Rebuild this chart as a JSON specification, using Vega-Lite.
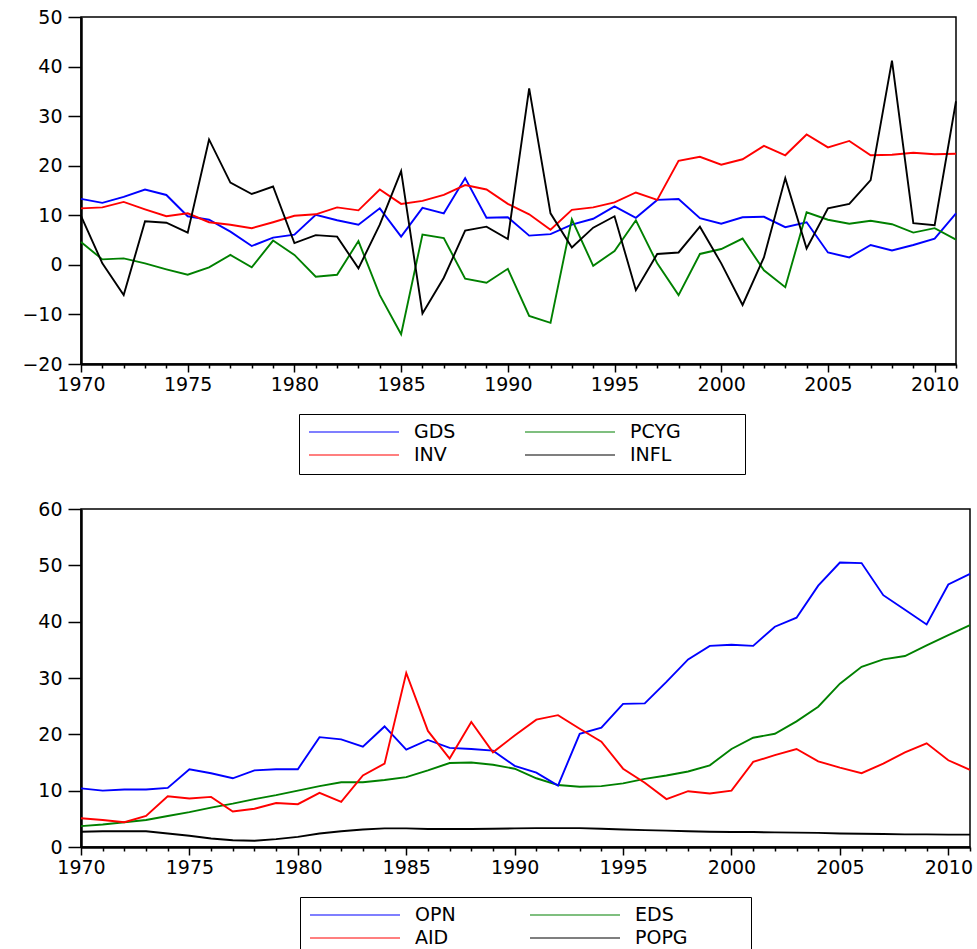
{
  "$schema": "https://vega.github.io/schema/vega-lite/v6.json",
  "background": "white",
  "padding": {"left": 21, "top": 7, "right": 0, "bottom": 0},
  "config": {
    "font": "DejaVu Sans",
    "view": {"stroke": "black", "strokeWidth": 1.5},
    "axis": {"grid": false, "domainColor": "black", "domainWidth": 2.5, "tickColor": "black", "tickWidth": 1.5, "labelFont": "DejaVu Sans", "labelFontSize": 19, "labelColor": "black", "title": null},
    "legend": {"orient": "none", "columns": 2, "symbolType": "stroke", "symbolSize": 8100, "symbolStrokeWidth": 1.2, "clipHeight": 18, "rowPadding": 4, "padding": 9, "strokeColor": "black", "fillColor": "white", "labelFont": "DejaVu Sans", "labelFontSize": 19, "labelColor": "black", "labelOffset": 14, "labelLimit": 400, "title": null}
  },
  "datasets": {
    "top": [
      {"year":1970,"series":"GDS","value":13.3},{"year":1971,"series":"GDS","value":12.5},{"year":1972,"series":"GDS","value":13.7},{"year":1973,"series":"GDS","value":15.2},{"year":1974,"series":"GDS","value":14.1},{"year":1975,"series":"GDS","value":9.8},{"year":1976,"series":"GDS","value":9.1},{"year":1977,"series":"GDS","value":6.7},{"year":1978,"series":"GDS","value":3.8},{"year":1979,"series":"GDS","value":5.5},{"year":1980,"series":"GDS","value":6.1},{"year":1981,"series":"GDS","value":10.1},{"year":1982,"series":"GDS","value":9.0},{"year":1983,"series":"GDS","value":8.1},{"year":1984,"series":"GDS","value":11.4},{"year":1985,"series":"GDS","value":5.7},{"year":1986,"series":"GDS","value":11.5},{"year":1987,"series":"GDS","value":10.4},{"year":1988,"series":"GDS","value":17.5},{"year":1989,"series":"GDS","value":9.5},{"year":1990,"series":"GDS","value":9.6},{"year":1991,"series":"GDS","value":5.9},{"year":1992,"series":"GDS","value":6.2},{"year":1993,"series":"GDS","value":8.1},{"year":1994,"series":"GDS","value":9.3},{"year":1995,"series":"GDS","value":11.8},{"year":1996,"series":"GDS","value":9.5},{"year":1997,"series":"GDS","value":13.1},{"year":1998,"series":"GDS","value":13.3},{"year":1999,"series":"GDS","value":9.4},{"year":2000,"series":"GDS","value":8.3},{"year":2001,"series":"GDS","value":9.6},{"year":2002,"series":"GDS","value":9.7},{"year":2003,"series":"GDS","value":7.6},{"year":2004,"series":"GDS","value":8.6},{"year":2005,"series":"GDS","value":2.5},{"year":2006,"series":"GDS","value":1.5},{"year":2007,"series":"GDS","value":4.0},{"year":2008,"series":"GDS","value":2.9},{"year":2009,"series":"GDS","value":4.0},{"year":2010,"series":"GDS","value":5.3},{"year":2011,"series":"GDS","value":10.4},
      {"year":1970,"series":"INV","value":11.4},{"year":1971,"series":"INV","value":11.6},{"year":1972,"series":"INV","value":12.7},{"year":1973,"series":"INV","value":11.2},{"year":1974,"series":"INV","value":9.8},{"year":1975,"series":"INV","value":10.4},{"year":1976,"series":"INV","value":8.6},{"year":1977,"series":"INV","value":8.1},{"year":1978,"series":"INV","value":7.4},{"year":1979,"series":"INV","value":8.6},{"year":1980,"series":"INV","value":9.9},{"year":1981,"series":"INV","value":10.2},{"year":1982,"series":"INV","value":11.6},{"year":1983,"series":"INV","value":11.0},{"year":1984,"series":"INV","value":15.2},{"year":1985,"series":"INV","value":12.3},{"year":1986,"series":"INV","value":12.9},{"year":1987,"series":"INV","value":14.1},{"year":1988,"series":"INV","value":16.1},{"year":1989,"series":"INV","value":15.2},{"year":1990,"series":"INV","value":12.3},{"year":1991,"series":"INV","value":10.2},{"year":1992,"series":"INV","value":7.1},{"year":1993,"series":"INV","value":11.1},{"year":1994,"series":"INV","value":11.6},{"year":1995,"series":"INV","value":12.6},{"year":1996,"series":"INV","value":14.6},{"year":1997,"series":"INV","value":13.1},{"year":1998,"series":"INV","value":21.0},{"year":1999,"series":"INV","value":21.8},{"year":2000,"series":"INV","value":20.2},{"year":2001,"series":"INV","value":21.3},{"year":2002,"series":"INV","value":24.0},{"year":2003,"series":"INV","value":22.1},{"year":2004,"series":"INV","value":26.3},{"year":2005,"series":"INV","value":23.7},{"year":2006,"series":"INV","value":25.0},{"year":2007,"series":"INV","value":22.1},{"year":2008,"series":"INV","value":22.2},{"year":2009,"series":"INV","value":22.6},{"year":2010,"series":"INV","value":22.3},{"year":2011,"series":"INV","value":22.4},
      {"year":1970,"series":"PCYG","value":4.6},{"year":1971,"series":"PCYG","value":1.1},{"year":1972,"series":"PCYG","value":1.3},{"year":1973,"series":"PCYG","value":0.3},{"year":1974,"series":"PCYG","value":-0.9},{"year":1975,"series":"PCYG","value":-2.0},{"year":1976,"series":"PCYG","value":-0.5},{"year":1977,"series":"PCYG","value":2.0},{"year":1978,"series":"PCYG","value":-0.5},{"year":1979,"series":"PCYG","value":4.9},{"year":1980,"series":"PCYG","value":2.0},{"year":1981,"series":"PCYG","value":-2.4},{"year":1982,"series":"PCYG","value":-2.0},{"year":1983,"series":"PCYG","value":4.8},{"year":1984,"series":"PCYG","value":-6.1},{"year":1985,"series":"PCYG","value":-14.0},{"year":1986,"series":"PCYG","value":6.1},{"year":1987,"series":"PCYG","value":5.4},{"year":1988,"series":"PCYG","value":-2.8},{"year":1989,"series":"PCYG","value":-3.6},{"year":1990,"series":"PCYG","value":-0.8},{"year":1991,"series":"PCYG","value":-10.3},{"year":1992,"series":"PCYG","value":-11.7},{"year":1993,"series":"PCYG","value":9.2},{"year":1994,"series":"PCYG","value":-0.2},{"year":1995,"series":"PCYG","value":2.8},{"year":1996,"series":"PCYG","value":9.0},{"year":1997,"series":"PCYG","value":0.3},{"year":1998,"series":"PCYG","value":-6.1},{"year":1999,"series":"PCYG","value":2.2},{"year":2000,"series":"PCYG","value":3.2},{"year":2001,"series":"PCYG","value":5.3},{"year":2002,"series":"PCYG","value":-1.1},{"year":2003,"series":"PCYG","value":-4.5},{"year":2004,"series":"PCYG","value":10.6},{"year":2005,"series":"PCYG","value":9.1},{"year":2006,"series":"PCYG","value":8.3},{"year":2007,"series":"PCYG","value":8.9},{"year":2008,"series":"PCYG","value":8.2},{"year":2009,"series":"PCYG","value":6.5},{"year":2010,"series":"PCYG","value":7.4},{"year":2011,"series":"PCYG","value":5.1},
      {"year":1970,"series":"INFL","value":9.9},{"year":1971,"series":"INFL","value":0.3},{"year":1972,"series":"INFL","value":-6.1},{"year":1973,"series":"INFL","value":8.8},{"year":1974,"series":"INFL","value":8.5},{"year":1975,"series":"INFL","value":6.5},{"year":1976,"series":"INFL","value":25.3},{"year":1977,"series":"INFL","value":16.6},{"year":1978,"series":"INFL","value":14.3},{"year":1979,"series":"INFL","value":15.8},{"year":1980,"series":"INFL","value":4.4},{"year":1981,"series":"INFL","value":6.0},{"year":1982,"series":"INFL","value":5.7},{"year":1983,"series":"INFL","value":-0.7},{"year":1984,"series":"INFL","value":8.1},{"year":1985,"series":"INFL","value":18.9},{"year":1986,"series":"INFL","value":-9.8},{"year":1987,"series":"INFL","value":-2.6},{"year":1988,"series":"INFL","value":6.9},{"year":1989,"series":"INFL","value":7.7},{"year":1990,"series":"INFL","value":5.2},{"year":1991,"series":"INFL","value":35.6},{"year":1992,"series":"INFL","value":10.4},{"year":1993,"series":"INFL","value":3.5},{"year":1994,"series":"INFL","value":7.5},{"year":1995,"series":"INFL","value":9.8},{"year":1996,"series":"INFL","value":-5.1},{"year":1997,"series":"INFL","value":2.2},{"year":1998,"series":"INFL","value":2.5},{"year":1999,"series":"INFL","value":7.7},{"year":2000,"series":"INFL","value":0.3},{"year":2001,"series":"INFL","value":-8.1},{"year":2002,"series":"INFL","value":1.5},{"year":2003,"series":"INFL","value":17.5},{"year":2004,"series":"INFL","value":3.3},{"year":2005,"series":"INFL","value":11.4},{"year":2006,"series":"INFL","value":12.3},{"year":2007,"series":"INFL","value":17.1},{"year":2008,"series":"INFL","value":41.2},{"year":2009,"series":"INFL","value":8.4},{"year":2010,"series":"INFL","value":8.0},{"year":2011,"series":"INFL","value":33.0}
    ],
    "bottom": [
      {"year":1970,"series":"EDS","value":3.7},{"year":1971,"series":"EDS","value":4.0},{"year":1972,"series":"EDS","value":4.4},{"year":1973,"series":"EDS","value":4.8},{"year":1974,"series":"EDS","value":5.5},{"year":1975,"series":"EDS","value":6.2},{"year":1976,"series":"EDS","value":7.0},{"year":1977,"series":"EDS","value":7.7},{"year":1978,"series":"EDS","value":8.5},{"year":1979,"series":"EDS","value":9.2},{"year":1980,"series":"EDS","value":10.0},{"year":1981,"series":"EDS","value":10.8},{"year":1982,"series":"EDS","value":11.5},{"year":1983,"series":"EDS","value":11.5},{"year":1984,"series":"EDS","value":11.9},{"year":1985,"series":"EDS","value":12.4},{"year":1986,"series":"EDS","value":13.6},{"year":1987,"series":"EDS","value":14.9},{"year":1988,"series":"EDS","value":15.0},{"year":1989,"series":"EDS","value":14.6},{"year":1990,"series":"EDS","value":13.9},{"year":1991,"series":"EDS","value":12.2},{"year":1992,"series":"EDS","value":11.0},{"year":1993,"series":"EDS","value":10.7},{"year":1994,"series":"EDS","value":10.8},{"year":1995,"series":"EDS","value":11.3},{"year":1996,"series":"EDS","value":12.1},{"year":1997,"series":"EDS","value":12.7},{"year":1998,"series":"EDS","value":13.4},{"year":1999,"series":"EDS","value":14.5},{"year":2000,"series":"EDS","value":17.4},{"year":2001,"series":"EDS","value":19.4},{"year":2002,"series":"EDS","value":20.1},{"year":2003,"series":"EDS","value":22.3},{"year":2004,"series":"EDS","value":24.9},{"year":2005,"series":"EDS","value":29.0},{"year":2006,"series":"EDS","value":32.0},{"year":2007,"series":"EDS","value":33.3},{"year":2008,"series":"EDS","value":33.9},{"year":2009,"series":"EDS","value":35.8},{"year":2010,"series":"EDS","value":37.6},{"year":2011,"series":"EDS","value":39.4},
      {"year":1970,"series":"POPG","value":2.7},{"year":1971,"series":"POPG","value":2.8},{"year":1972,"series":"POPG","value":2.8},{"year":1973,"series":"POPG","value":2.8},{"year":1974,"series":"POPG","value":2.4},{"year":1975,"series":"POPG","value":2.0},{"year":1976,"series":"POPG","value":1.5},{"year":1977,"series":"POPG","value":1.2},{"year":1978,"series":"POPG","value":1.1},{"year":1979,"series":"POPG","value":1.4},{"year":1980,"series":"POPG","value":1.8},{"year":1981,"series":"POPG","value":2.4},{"year":1982,"series":"POPG","value":2.8},{"year":1983,"series":"POPG","value":3.1},{"year":1984,"series":"POPG","value":3.3},{"year":1985,"series":"POPG","value":3.3},{"year":1986,"series":"POPG","value":3.2},{"year":1987,"series":"POPG","value":3.2},{"year":1988,"series":"POPG","value":3.2},{"year":1989,"series":"POPG","value":3.25},{"year":1990,"series":"POPG","value":3.3},{"year":1991,"series":"POPG","value":3.35},{"year":1992,"series":"POPG","value":3.35},{"year":1993,"series":"POPG","value":3.35},{"year":1994,"series":"POPG","value":3.25},{"year":1995,"series":"POPG","value":3.1},{"year":1996,"series":"POPG","value":3.0},{"year":1997,"series":"POPG","value":2.9},{"year":1998,"series":"POPG","value":2.8},{"year":1999,"series":"POPG","value":2.7},{"year":2000,"series":"POPG","value":2.65},{"year":2001,"series":"POPG","value":2.65},{"year":2002,"series":"POPG","value":2.6},{"year":2003,"series":"POPG","value":2.55},{"year":2004,"series":"POPG","value":2.5},{"year":2005,"series":"POPG","value":2.4},{"year":2006,"series":"POPG","value":2.35},{"year":2007,"series":"POPG","value":2.3},{"year":2008,"series":"POPG","value":2.25},{"year":2009,"series":"POPG","value":2.25},{"year":2010,"series":"POPG","value":2.2},{"year":2011,"series":"POPG","value":2.2},
      {"year":1970,"series":"OPN","value":10.4},{"year":1971,"series":"OPN","value":10.0},{"year":1972,"series":"OPN","value":10.2},{"year":1973,"series":"OPN","value":10.2},{"year":1974,"series":"OPN","value":10.5},{"year":1975,"series":"OPN","value":13.8},{"year":1976,"series":"OPN","value":13.1},{"year":1977,"series":"OPN","value":12.2},{"year":1978,"series":"OPN","value":13.6},{"year":1979,"series":"OPN","value":13.8},{"year":1980,"series":"OPN","value":13.8},{"year":1981,"series":"OPN","value":19.5},{"year":1982,"series":"OPN","value":19.1},{"year":1983,"series":"OPN","value":17.8},{"year":1984,"series":"OPN","value":21.4},{"year":1985,"series":"OPN","value":17.3},{"year":1986,"series":"OPN","value":19.0},{"year":1987,"series":"OPN","value":17.6},{"year":1988,"series":"OPN","value":17.4},{"year":1989,"series":"OPN","value":17.1},{"year":1990,"series":"OPN","value":14.4},{"year":1991,"series":"OPN","value":13.2},{"year":1992,"series":"OPN","value":10.9},{"year":1993,"series":"OPN","value":20.1},{"year":1994,"series":"OPN","value":21.2},{"year":1995,"series":"OPN","value":25.4},{"year":1996,"series":"OPN","value":25.5},{"year":1997,"series":"OPN","value":29.3},{"year":1998,"series":"OPN","value":33.3},{"year":1999,"series":"OPN","value":35.7},{"year":2000,"series":"OPN","value":35.9},{"year":2001,"series":"OPN","value":35.7},{"year":2002,"series":"OPN","value":39.1},{"year":2003,"series":"OPN","value":40.7},{"year":2004,"series":"OPN","value":46.4},{"year":2005,"series":"OPN","value":50.5},{"year":2006,"series":"OPN","value":50.4},{"year":2007,"series":"OPN","value":44.7},{"year":2008,"series":"OPN","value":42.1},{"year":2009,"series":"OPN","value":39.5},{"year":2010,"series":"OPN","value":46.6},{"year":2011,"series":"OPN","value":48.5},
      {"year":1970,"series":"AID","value":5.1},{"year":1971,"series":"AID","value":4.8},{"year":1972,"series":"AID","value":4.4},{"year":1973,"series":"AID","value":5.5},{"year":1974,"series":"AID","value":9.0},{"year":1975,"series":"AID","value":8.6},{"year":1976,"series":"AID","value":8.9},{"year":1977,"series":"AID","value":6.3},{"year":1978,"series":"AID","value":6.8},{"year":1979,"series":"AID","value":7.8},{"year":1980,"series":"AID","value":7.6},{"year":1981,"series":"AID","value":9.6},{"year":1982,"series":"AID","value":8.0},{"year":1983,"series":"AID","value":12.7},{"year":1984,"series":"AID","value":14.8},{"year":1985,"series":"AID","value":30.9},{"year":1986,"series":"AID","value":20.6},{"year":1987,"series":"AID","value":15.7},{"year":1988,"series":"AID","value":22.2},{"year":1989,"series":"AID","value":16.8},{"year":1990,"series":"AID","value":19.8},{"year":1991,"series":"AID","value":22.6},{"year":1992,"series":"AID","value":23.4},{"year":1993,"series":"AID","value":21.0},{"year":1994,"series":"AID","value":18.7},{"year":1995,"series":"AID","value":13.9},{"year":1996,"series":"AID","value":11.4},{"year":1997,"series":"AID","value":8.5},{"year":1998,"series":"AID","value":9.9},{"year":1999,"series":"AID","value":9.5},{"year":2000,"series":"AID","value":10.0},{"year":2001,"series":"AID","value":15.1},{"year":2002,"series":"AID","value":16.3},{"year":2003,"series":"AID","value":17.4},{"year":2004,"series":"AID","value":15.2},{"year":2005,"series":"AID","value":14.1},{"year":2006,"series":"AID","value":13.1},{"year":2007,"series":"AID","value":14.8},{"year":2008,"series":"AID","value":16.8},{"year":2009,"series":"AID","value":18.4},{"year":2010,"series":"AID","value":15.4},{"year":2011,"series":"AID","value":13.7}
    ]
  },
  "spacing": 23,
  "resolve": {"scale": {"color": "independent"}},
  "vconcat": [
    {
      "width": 875,
      "height": 347,
      "data": {"name": "top"},
      "mark": {"type": "line", "strokeWidth": 1.9},
      "encoding": {
        "x": {"field": "year", "type": "quantitative", "scale": {"domain": [1970, 2011], "nice": false, "zero": false},
          "axis": {"values": [1970,1971,1972,1973,1974,1975,1976,1977,1978,1979,1980,1981,1982,1983,1984,1985,1986,1987,1988,1989,1990,1991,1992,1993,1994,1995,1996,1997,1998,1999,2000,2001,2002,2003,2004,2005,2006,2007,2008,2009,2010,2011],
            "format": "d", "labelExpr": "datum.value % 5 === 0 ? datum.label : ''", "labelOverlap": false, "labelFlush": false,
            "tickSize": {"condition": {"test": "datum.value % 5 === 0", "value": 8}, "value": 4}, "labelPadding": 3}},
        "y": {"field": "value", "type": "quantitative", "scale": {"domain": [-20, 50], "nice": false, "zero": false},
          "axis": {"values": [-20,-10,0,10,20,30,40,50], "tickSize": 13, "labelPadding": 6, "minExtent": 55}},
        "color": {"field": "series", "type": "nominal",
          "scale": {"domain": ["GDS","INV","PCYG","INFL"], "range": ["#0000ff","#ff0000","#008000","#000000"]},
          "legend": {"legendX": 218, "legendY": 397, "columnPadding": 14, "labelExpr": "datum.label + '\u00a0\u00a0\u00a0\u00a0\u00a0\u00a0\u00a0\u00a0\u00a0\u200b'"}}
      }
    },
    {
      "width": 889,
      "height": 338,
      "data": {"name": "bottom"},
      "mark": {"type": "line", "strokeWidth": 1.9},
      "encoding": {
        "x": {"field": "year", "type": "quantitative", "scale": {"domain": [1970, 2011], "nice": false, "zero": false},
          "axis": {"values": [1970,1971,1972,1973,1974,1975,1976,1977,1978,1979,1980,1981,1982,1983,1984,1985,1986,1987,1988,1989,1990,1991,1992,1993,1994,1995,1996,1997,1998,1999,2000,2001,2002,2003,2004,2005,2006,2007,2008,2009,2010,2011],
            "format": "d", "labelExpr": "datum.value % 5 === 0 ? datum.label : ''", "labelOverlap": false, "labelFlush": false,
            "tickSize": {"condition": {"test": "datum.value % 5 === 0", "value": 8}, "value": 4}, "labelPadding": 3}},
        "y": {"field": "value", "type": "quantitative", "scale": {"domain": [0, 60], "nice": false},
          "axis": {"values": [0,10,20,30,40,50,60], "tickSize": 13, "labelPadding": 6, "minExtent": 55}},
        "color": {"field": "series", "type": "nominal",
          "scale": {"domain": ["OPN","AID","EDS","POPG"], "range": ["#0000ff","#ff0000","#008000","#000000"]},
          "legend": {"legendX": 219, "legendY": 388, "columnPadding": 19, "labelExpr": "datum.label + '\u00a0\u00a0\u00a0\u00a0\u00a0\u00a0\u00a0\u00a0\u00a0\u200b'"}}
      }
    }
  ]
}
